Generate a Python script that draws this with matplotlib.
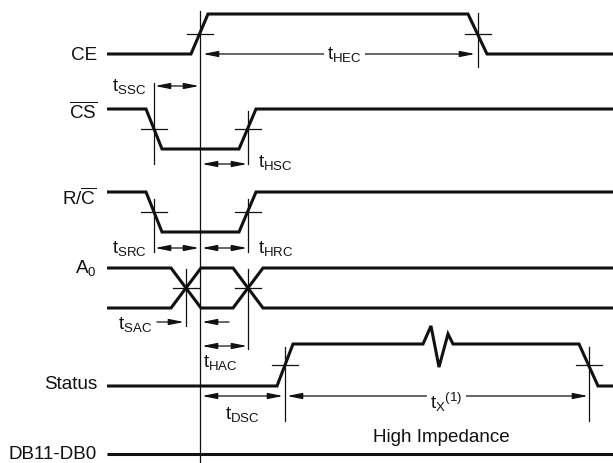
import matplotlib
matplotlib.use('Agg')
import matplotlib.pyplot as plt
from matplotlib.patches import FancyArrowPatch

plt.rcParams['font.family'] = ['Liberation Sans', 'DejaVu Sans']
plt.rcParams['mathtext.fontset'] = 'custom'
plt.rcParams['mathtext.rm'] = 'Liberation Sans'
plt.rcParams['mathtext.it'] = 'Liberation Sans'
plt.rcParams['mathtext.bf'] = 'Liberation Sans:bold'

# ---------------- data: waveforms (time axis, level 0 = low, 1 = high) -------------
signal_labels = ['CE', r'$\overline{\mathregular{CS}}$', r'R/$\overline{\mathregular{C}}$',
                 r'$\mathregular{A_0}$', 'Status', 'DB11-DB0']

ce_times = [107, 191, 208, 468, 487, 613]
ce_levels = [0, 0, 1, 1, 0, 0]

cs_times = [107, 146, 162, 239, 256, 613]
cs_levels = [1, 1, 0, 0, 1, 1]

rc_times = [107, 146, 162, 239, 256, 613]
rc_levels = [1, 1, 0, 0, 1, 1]

a0_times = [107, 171, 201, 233, 263, 613]          # bus signal
a0_rail_hi = [1, 1, 0, 0, 1, 1]
a0_rail_lo = [0, 0, 1, 1, 0, 0]

status_times = [107, 277, 293, 423, 431, 439, 448, 453, 579, 598, 613]
status_levels = [0, 0, 1, 1, 1.43, 0.45, 1.24, 1, 1, 0, 0]

db_times = [107, 613]
db_levels = [0, 0]

# timing parameters: (label, start, end)
param_labels = [r'$\mathregular{t_{HEC}}$', r'$\mathregular{t_{SSC}}$', r'$\mathregular{t_{HSC}}$',
                r'$\mathregular{t_{SRC}}$', r'$\mathregular{t_{HRC}}$', r'$\mathregular{t_{SAC}}$',
                r'$\mathregular{t_{HAC}}$', r'$\mathregular{t_{DSC}}$',
                r'$\mathregular{t_X{}^{(1)}}$']
param_start = [200, 153, 200, 153, 200, 186, 200, 200, 285]
param_end = [477, 200, 248, 200, 248, 200, 248, 285, 590]

# ---------------- layout ----------------
W, H = 613, 464
row_low = [55, 150, 233, 309, 387, 455]
row_amp = [40, 40, 40, 40, 42, 0]
label_x = 97
label_y = [56, 112, 198, 268, 385, 455]
FS = 13.6

THICK = 2.2
THIN = 0.9
INK = '#111111'

fig = plt.figure(figsize=(W / 100, H / 100), dpi=100)
ax = fig.add_axes([0, 0, 1, 1])
ax.set_xlim(0, W)
ax.set_ylim(H, 0)
ax.axis('off')


def yv(row, lev):
    return row_low[row] - row_amp[row] * lev


def wave(row, times, levels):
    ax.plot(times, [yv(row, l) for l in levels], color=INK, lw=THICK,
            solid_joinstyle='miter', solid_capstyle='butt')


wave(0, ce_times, ce_levels)
wave(1, cs_times, cs_levels)
wave(2, rc_times, rc_levels)
wave(3, a0_times, a0_rail_hi)
wave(3, a0_times, a0_rail_lo)
wave(4, status_times, status_levels)
wave(5, db_times, db_levels)

for lab, y in zip(signal_labels, label_y):
    ax.text(label_x, y, lab, ha='right', va='center', fontsize=FS, color=INK)

# edge markers: (row, edge start, edge end, vline top, vline bottom)
edge_marks = [
    (0, ce_times[1], ce_times[2], None, None),
    (0, ce_times[3], ce_times[4], 14, 68),
    (1, cs_times[1], cs_times[2], 84, 165),
    (1, cs_times[3], cs_times[4], 112, 165),
    (2, rc_times[1], rc_times[2], 200, 253),
    (2, rc_times[3], rc_times[4], 200, 253),
    (3, a0_times[1], a0_times[2], 270, 327),
    (3, a0_times[3], a0_times[4], 270, 350),
    (4, status_times[1], status_times[2], 348, 422),
    (4, status_times[8], status_times[9], 348, 422),
]
for row, t0, t1, top, bot in edge_marks:
    xc = (t0 + t1) / 2
    yc = yv(row, 0.5)
    ax.plot([xc - 13, xc + 13], [yc, yc], color=INK, lw=THIN)
    if top is not None:
        ax.plot([xc, xc], [top, bot], color=INK, lw=THIN)

# main reference line at the CE rising edge
ax.plot([200, 200], [12, H], color=INK, lw=THIN)

AS = '{},head_length=9,head_width=1.8'


def arrow(x0, x1, y, style='<|-|>'):
    ax.add_patch(FancyArrowPatch((x0, y), (x1, y), arrowstyle=AS.format(style),
                                 mutation_scale=1, lw=THIN, color=INK,
                                 shrinkA=0, shrinkB=0))


def ptext(s, x, y, bg=False):
    kw = dict(ha='left', va='baseline', fontsize=FS, color=INK)
    if bg:
        kw['bbox'] = dict(facecolor='white', edgecolor='none', pad=2.5)
    ax.text(x, y, s, **kw)


# tHEC
arrow(param_start[0] + 3, param_end[0] - 2, 55)
ptext(param_labels[0], 327, 59.5, bg=True)
# tSSC
arrow(param_start[1] + 2, param_end[1] - 1, 87)
ptext(param_labels[1], 112, 90.5)
# tHSC
arrow(param_start[2] + 2, param_end[2] - 1, 165)
ptext(param_labels[2], 258, 167.5)
# tSRC
arrow(param_start[3] + 2, param_end[3] - 1, 249)
ptext(param_labels[3], 112, 252.5)
# tHRC
arrow(param_start[4] + 2, param_end[4] - 1, 249)
ptext(param_labels[4], 258, 252.5)
# tSAC (inward arrows)
arrow(param_start[5] - 29, param_start[5] - 2, 323, '-|>')
arrow(param_end[5] + 29, param_end[5] + 2, 323, '-|>')
ptext(param_labels[5], 118, 329.5)
# tHAC
arrow(param_start[6] + 2, param_end[6] - 1, 347)
ptext(param_labels[6], 203, 367.5)
# tDSC
arrow(param_start[7] + 2, param_end[7] - 2, 397)
ptext(param_labels[7], 225, 419.5)
# tX
arrow(param_start[8] + 2, param_end[8] - 2, 397)
ptext(param_labels[8], 430, 409.5, bg=True)

ax.text(441, 442, 'High Impedance', ha='center', va='baseline', fontsize=FS, color=INK)

fig.savefig('out.png', dpi=100)
